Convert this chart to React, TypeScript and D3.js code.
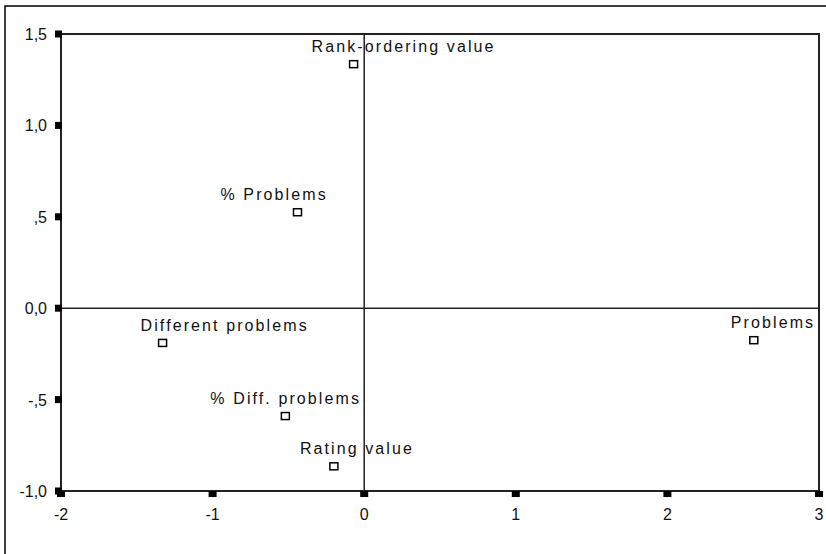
import React from 'react';
import * as d3 from 'd3';

// scatter points (dimension 1, dimension 2)
const labels = ['Rank-ordering value', '% Problems', 'Different problems', '% Diff. problems', 'Rating value', 'Problems'];
const dim1 = [-0.07, -0.44, -1.33, -0.52, -0.2, 2.57];
const dim2 = [1.335, 0.525, -0.19, -0.59, -0.865, -0.175];

// label offset (px) from the marker, as placed in the original
const labelDx = [-42, -77, -22, -75, -34, -23];

const xTicks = [-2, -1, 0, 1, 2, 3];
const yTicks = [-1.0, -0.5, 0.0, 0.5, 1.0, 1.5];

const W = 826;
const H = 554;
const margin = { top: 34, right: 7, bottom: 63, left: 61 };

// SPSS style: comma decimals, leading zero dropped (",5", "-,5")
const fmtY = (v: number) => {
  if (v === 0) return '0,0';
  return d3.format('.1f')(v).replace('−', '-').replace('.', ',').replace(/^(-?)0,/, '$1,');
};

export default function App() {
  const x = d3.scaleLinear().domain([-2, 3]).range([margin.left, W - margin.right]);
  const y = d3.scaleLinear().domain([-1.0, 1.5]).range([H - margin.bottom, margin.top]);
  const font = '"Liberation Sans", Arial, sans-serif';
  const line = '#222';

  return (
    <svg width={W} height={H} style={{ position: 'absolute', left: 0, top: 0, background: '#fff' }}>
      <rect x={5} y={6} width={W + 10} height={H + 10} fill="#fff" stroke="#000" strokeWidth={1.5} />
      {/* plot frame */}
      <rect x={x(-2)} y={y(1.5)} width={x(3) - x(-2)} height={y(-1) - y(1.5)} fill="none" stroke={line} strokeWidth={2} />
      {/* zero lines */}
      <line x1={x(0)} x2={x(0)} y1={y(1.5)} y2={y(-1)} stroke={line} strokeWidth={1.5} />
      <line x1={x(-2)} x2={x(3)} y1={y(0)} y2={y(0)} stroke={line} strokeWidth={1.5} />

      {yTicks.map(t => (
        <g key={'y' + t}>
          <rect x={x(-2) - 6} y={y(t) - 3.5} width={7} height={7} fill="#000" />
          <text x={x(-2) - 14} y={y(t) + 6} textAnchor="end" fontFamily={font} fontSize={16} fill="#111">
            {fmtY(t)}
          </text>
        </g>
      ))}
      {xTicks.map(t => (
        <g key={'x' + t}>
          <rect x={x(t) - 4} y={y(-1)} width={8} height={6} fill="#000" />
          <text x={x(t)} y={y(-1) + 29} textAnchor="middle" fontFamily={font} fontSize={16} fill="#111">
            {t}
          </text>
        </g>
      ))}

      {labels.map((name, i) => {
        const cx = x(dim1[i]);
        const cy = y(dim2[i]);
        return (
          <g key={name}>
            <rect x={cx - 4} y={cy - 3.5} width={8} height={7} fill="#fff" stroke="#000" strokeWidth={1.5} />
            <text x={cx + labelDx[i]} y={cy - 12} fontFamily={font} fontSize={16} letterSpacing={2.1} fill="#111">
              {name}
            </text>
          </g>
        );
      })}
    </svg>
  );
}
